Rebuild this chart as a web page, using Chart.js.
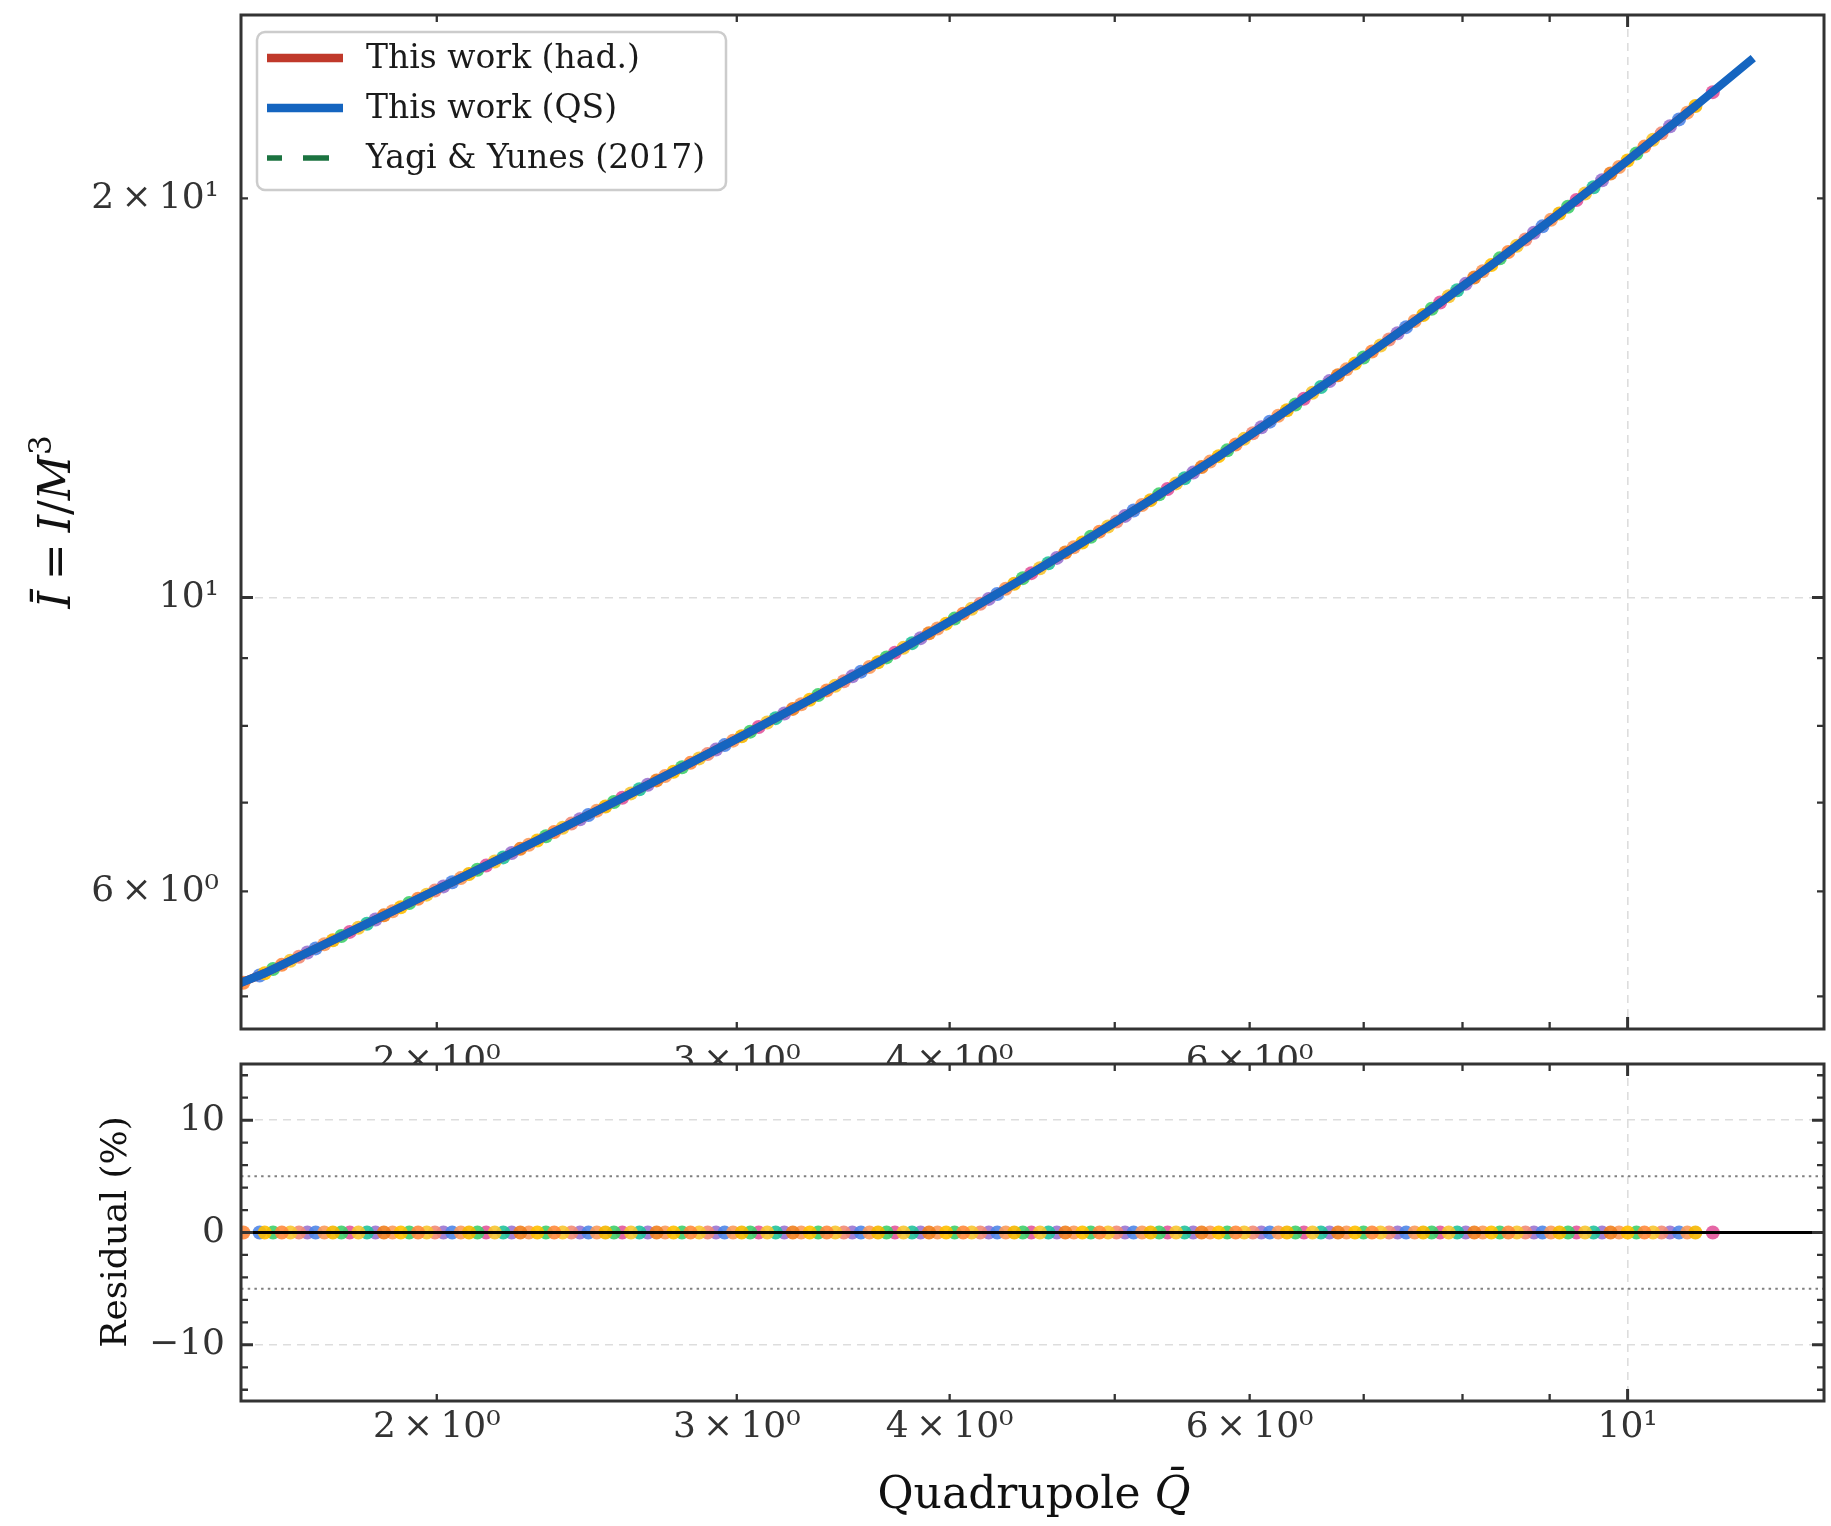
<!DOCTYPE html>
<html>
<head>
<meta charset="utf-8">
<script src="https://cdn.jsdelivr.net/npm/chart.js@4.4.1/dist/chart.umd.min.js"></script>
<style>
  html, body { margin: 0; padding: 0; background: #fff; }
  #wrap { position: relative; width: 1831px; height: 1526px; }
  #main { position: absolute; left: 0; top: 0; }
  #resid { position: absolute; left: 0; top: 1040px; }
</style>
</head>
<body>
<div id="wrap">
  <canvas id="main" width="1831" height="1064"></canvas>
  <canvas id="resid" width="1831" height="486"></canvas>
</div>
<script>
// ---------- data ----------
// axis limits
const qMin = 1.535, qMax = 13.04;
const iMin = 4.725, iMax = 27.5;
const resMin = -15, resMax = 15;

// fitted I-Q relations sampled along Q
const fitQ   = [1.50, 1.585, 1.738, 1.905, 2.089, 2.291, 2.512, 2.754, 3.020, 3.311, 3.631, 3.981, 4.365, 4.786, 5.248, 5.754, 6.310, 6.918, 7.586, 8.318, 9.120, 10.00, 10.96, 11.80];
const fitQS  = [5.06, 5.206, 5.513, 5.838, 6.185, 6.555, 6.955, 7.387, 7.857, 8.370, 8.934, 9.554, 10.24, 11.00, 11.84, 12.78, 13.84, 15.01, 16.33, 17.81, 19.48, 21.36, 23.48, 25.40];
const fitHad = [5.06, 5.206, 5.513, 5.838, 6.185, 6.555, 6.955, 7.387, 7.857, 8.370, 8.934, 9.554, 10.24, 11.00, 11.84, 12.78, 13.84, 15.01, 16.33, 17.81, 19.48, 21.36, 23.48, null];
const fitYY  = [5.06, 5.206, 5.513, 5.838, 6.185, 6.555, 6.955, 7.387, 7.857, 8.370, 8.934, 9.554, 10.24, 11.00, 11.84, 12.78, 13.84, 15.01, 16.33, 17.81, 19.48, 21.36, 23.48, 25.40];

// stellar models, one group per EOS
const eosColors = ['#ffbf00', '#ff8a3d', '#f28b74', '#4f86e8', '#f5b700', '#e2559b',
                   '#22c39b', '#f07f1f', '#3fcf6a', '#f7c531', '#9b74d0', '#fb9a5a'];
const eosQ = [
  [1.585, 1.905, 2.291, 2.754, 3.311, 3.981, 4.786, 5.754, 6.918, 8.318, 10.00],
  [1.540, 1.622, 1.950, 2.344, 2.818, 3.388, 4.074, 4.898, 5.888, 7.079, 8.511, 10.23],
  [1.660, 1.995, 2.399, 2.884, 3.467, 4.169, 5.012, 6.026, 7.244, 8.710, 10.47],
  [1.574, 1.698, 2.042, 2.455, 2.951, 3.548, 4.266, 5.129, 6.166, 7.413, 8.913, 10.72],
  [1.738, 2.089, 2.512, 3.020, 3.631, 4.365, 5.248, 6.310, 7.586, 9.120, 10.96],
  [1.778, 2.138, 2.570, 3.090, 3.715, 4.467, 5.370, 6.457, 7.762, 9.333, 11.22],
  [1.820, 2.188, 2.630, 3.162, 3.802, 4.571, 5.495, 6.607, 7.943, 9.550],
  [1.862, 2.239, 2.692, 3.236, 3.890, 4.677, 5.623, 6.761, 8.128, 9.772],
  [1.603, 1.758, 1.927, 2.113, 2.318, 2.541, 2.786, 3.055, 3.349, 3.673, 4.027, 4.416, 4.841, 5.309, 5.821, 6.383, 6.998, 7.674, 8.414, 9.226, 10.12],
  [1.641, 1.799, 1.973, 2.163, 2.371, 2.600, 2.851, 3.126, 3.427, 3.758, 4.121, 4.519, 4.955, 5.432, 5.956, 6.532, 7.161, 7.852, 8.610, 9.441, 10.35],
  [1.679, 1.841, 2.018, 2.213, 2.427, 2.660, 2.917, 3.199, 3.507, 3.846, 4.217, 4.624, 5.070, 5.559, 6.096, 6.684, 7.328, 8.035, 8.811, 9.661, 10.59],
  [1.718, 1.884, 2.066, 2.265, 2.483, 2.723, 2.985, 3.273, 3.589, 3.935, 4.315, 4.731, 5.188, 5.688, 6.237, 6.839, 7.499, 8.222, 9.016, 9.885, 10.84]
];
const eosI = [
  [5.206, 5.838, 6.555, 7.387, 8.370, 9.554, 11.00, 12.78, 15.01, 17.81, 21.36],
  [5.120, 5.282, 5.924, 6.653, 7.502, 8.508, 9.721, 11.21, 13.04, 15.33, 18.22, 21.88],
  [5.357, 6.009, 6.751, 7.617, 8.645, 9.888, 11.41, 13.30, 15.65, 18.62, 22.39],
  [5.185, 5.435, 6.097, 6.853, 7.737, 8.790, 10.06, 11.63, 13.57, 15.99, 19.05, 22.94],
  [5.513, 6.185, 6.955, 7.857, 8.934, 10.24, 11.84, 13.84, 16.33, 19.48, 23.48],
  [5.593, 6.276, 7.061, 7.983, 9.085, 10.43, 12.07, 14.12, 16.69, 19.94, 24.05],
  [5.673, 6.366, 7.166, 8.108, 9.236, 10.61, 12.30, 14.41, 17.05, 20.39],
  [5.756, 6.461, 7.277, 8.239, 9.395, 10.81, 12.54, 14.71, 17.43, 20.88],
  [5.244, 5.553, 5.881, 6.231, 6.604, 7.008, 7.445, 7.920, 8.439, 9.010, 9.638, 10.34, 11.11, 11.96, 12.91, 13.98, 15.17, 16.51, 18.02, 19.71, 21.62],
  [5.320, 5.633, 5.967, 6.321, 6.702, 7.114, 7.560, 8.046, 8.577, 9.161, 9.805, 10.52, 11.31, 12.19, 13.17, 14.27, 15.49, 16.87, 18.42, 20.17, 22.14],
  [5.396, 5.715, 6.053, 6.414, 6.802, 7.222, 7.677, 8.174, 8.718, 9.316, 9.974, 10.71, 11.52, 12.42, 13.44, 14.56, 15.82, 17.24, 18.84, 20.64, 22.67],
  [5.474, 5.797, 6.141, 6.508, 6.904, 7.332, 7.797, 8.305, 8.862, 9.475, 10.15, 10.91, 11.74, 12.66, 13.71, 14.86, 16.16, 17.62, 19.27, 21.12, 23.21]
];
// residual against the QS fit, in percent
const eosRes = [
  [0, 0, 0, 0, 0, 0, 0, 0, 0, 0, 0],
  [0, 0, 0, 0, 0, 0, 0, 0, 0, 0, 0, 0],
  [0, 0, 0, 0, 0, 0, 0, 0, 0, 0, 0],
  [0, 0, 0, 0, 0, 0, 0, 0, 0, 0, 0, 0],
  [0, 0, 0, 0, 0, 0, 0, 0, 0, 0, 0],
  [0, 0, 0, 0, 0, 0, 0, 0, 0, 0, 0],
  [0, 0, 0, 0, 0, 0, 0, 0, 0, 0],
  [0, 0, 0, 0, 0, 0, 0, 0, 0, 0],
  [0, 0, 0, 0, 0, 0, 0, 0, 0, 0, 0, 0, 0, 0, 0, 0, 0, 0, 0, 0, 0],
  [0, 0, 0, 0, 0, 0, 0, 0, 0, 0, 0, 0, 0, 0, 0, 0, 0, 0, 0, 0, 0],
  [0, 0, 0, 0, 0, 0, 0, 0, 0, 0, 0, 0, 0, 0, 0, 0, 0, 0, 0, 0, 0],
  [0, 0, 0, 0, 0, 0, 0, 0, 0, 0, 0, 0, 0, 0, 0, 0, 0, 0, 0, 0, 0]
];
const refLevels = [0, 5, -5];

// ticks
const xTickVals = [2, 3, 4, 6, 10];
const xTickTop  = ['2\u2009\u00d7\u200910\u2070', '3\u2009\u00d7\u200910\u2070', '4\u2009\u00d7\u200910\u2070', '6\u2009\u00d7\u200910\u2070', ''];
const xTickBot  = ['2\u2009\u00d7\u200910\u2070', '3\u2009\u00d7\u200910\u2070', '4\u2009\u00d7\u200910\u2070', '6\u2009\u00d7\u200910\u2070', '10\u00b9'];
const xMajor = [10];
const xMinor = [2, 3, 4, 5, 6, 7, 8, 9];
const iTickVals = [6, 10, 20];
const iTickText = ['6\u2009\u00d7\u200910\u2070', '10\u00b9', '2\u2009\u00d7\u200910\u00b9'];
const iMajor = [10];
const iMinor = [5, 6, 7, 8, 9, 20];
const resTickVals = [-10, 0, 10];
const resTickText = ['\u221210', '0', '10'];
const resMinor = [-14, -12, -8, -6, -4, -2, 2, 4, 6, 8, 12, 14];

// ---------- styles ----------
const FONT = 'DejaVu Serif';
const RED = '#c0392b', BLUE = '#1565c0', GREEN = '#1b7340';
const SPINE = '#333333', GRID = '#dddddd', TICKTXT = '#333333';
// stacking of the EOS groups: gold / orange ones end up on top
const eosRank = [1, 3, 7, 11, 2, 10, 8, 4, 9, 5, 12, 6];

const toPts = (xs, ys) => xs.map((x, i) => ({ x: x, y: ys[i] }));

// box + inward ticks on all four sides
const frameTicks = {
  id: 'frameTicks',
  afterDraw(chart, args, o) {
    const { ctx, chartArea: a } = chart;
    const x = chart.scales.x, y = chart.scales.y;
    ctx.save();
    ctx.strokeStyle = SPINE;
    ctx.lineCap = 'butt';
    const vert = (vals, len, w) => {
      ctx.lineWidth = w;
      ctx.beginPath();
      vals.forEach(v => {
        const px = x.getPixelForValue(v);
        ctx.moveTo(px, a.bottom); ctx.lineTo(px, a.bottom - len);
        ctx.moveTo(px, a.top); ctx.lineTo(px, a.top + len);
      });
      ctx.stroke();
    };
    const horiz = (vals, len, w) => {
      ctx.lineWidth = w;
      ctx.beginPath();
      vals.forEach(v => {
        const py = y.getPixelForValue(v);
        ctx.moveTo(a.left, py); ctx.lineTo(a.left + len, py);
        ctx.moveTo(a.right, py); ctx.lineTo(a.right - len, py);
      });
      ctx.stroke();
    };
    vert(o.xMinor, 7, 2.3);
    vert(o.xMajor, 12, 3);
    horiz(o.yMinor, 7, 2.3);
    horiz(o.yMajor, 12, 3);
    ctx.lineWidth = 3;
    ctx.strokeRect(a.left, a.top, a.right - a.left, a.bottom - a.top);
    ctx.restore();
  }
};

// framed legend in the upper left of the panel
const panelLegend = {
  id: 'panelLegend',
  afterDraw(chart, args, o) {
    if (!o.show) return;
    const ctx = chart.ctx;
    ctx.save();
    ctx.beginPath();
    ctx.roundRect(o.x, o.y, o.w, o.h, 8);
    ctx.fillStyle = 'rgba(255,255,255,0.85)';
    ctx.fill();
    ctx.strokeStyle = '#cccccc';
    ctx.lineWidth = 2.5;
    ctx.stroke();
    const rows = chart.data.datasets.filter(d => d.label);
    rows.forEach((d, i) => {
      const ry = o.rowY + i * o.rowGap;
      ctx.beginPath();
      ctx.strokeStyle = d.borderColor;
      ctx.lineWidth = d.borderWidth;
      ctx.setLineDash(d.borderDash || []);
      ctx.lineDashOffset = d.borderDash ? 11 : 0;
      ctx.moveTo(o.x + 10, ry);
      ctx.lineTo(o.x + 86, ry);
      ctx.stroke();
      ctx.setLineDash([]);
      ctx.fillStyle = '#1a1a1a';
      ctx.font = '33px "' + FONT + '"';
      ctx.textBaseline = 'middle';
      ctx.textAlign = 'left';
      ctx.fillText(d.label, o.x + 109, ry + 1);
    });
    ctx.restore();
  }
};

// axis titles with mixed upright / italic runs
function drawRich(ctx, parts, size, cx, cy, angle) {
  ctx.save();
  ctx.translate(cx, cy);
  ctx.rotate(angle);
  const fontFor = p => (p.it ? 'italic ' : '') + Math.round(p.sup ? size * 0.7 : size) + 'px "' + FONT + '"';
  let total = 0;
  parts.forEach(p => { ctx.font = fontFor(p); p.w = ctx.measureText(p.t).width; total += p.w; });
  let x = -total / 2;
  ctx.textBaseline = 'alphabetic';
  ctx.textAlign = 'left';
  ctx.fillStyle = '#111111';
  parts.forEach(p => {
    ctx.font = fontFor(p);
    ctx.fillText(p.t, x, size * 0.36 - (p.sup ? size * 0.42 : 0));
    x += p.w;
  });
  ctx.restore();
}

const axisTitles = {
  id: 'axisTitles',
  afterDraw(chart, args, o) {
    o.items.forEach(t => drawRich(chart.ctx, t.parts, t.size, t.x, t.y, t.angle));
  }
};

const gridAt = vals => ctx => (ctx.tick && vals.includes(ctx.tick.value)) ? GRID : 'rgba(0,0,0,0)';
const tickFont = { family: FONT, size: 36 };

const eosSets = yArrays => eosQ.map((qs, g) => ({
  data: toPts(qs, yArrays[g]), backgroundColor: eosColors[g] + 'e6', borderWidth: 0,
  pointRadius: 7, clip: 0, order: 10 + eosRank[g]
}));

// ---------- upper panel: I vs Q ----------
const topSets = [
  { label: 'This work (had.)', data: toPts(fitQ, fitHad), showLine: true, borderColor: RED,
    borderWidth: 8.3, pointRadius: 0, borderCapStyle: 'butt', clip: 0, order: 2 },
  { label: 'This work (QS)', data: toPts(fitQ, fitQS), showLine: true, borderColor: BLUE,
    borderWidth: 8.3, pointRadius: 0, borderCapStyle: 'square', clip: 0, order: 0 },
  { label: 'Yagi & Yunes (2017)', data: toPts(fitQ, fitYY), showLine: true, borderColor: GREEN,
    borderWidth: 5.6, borderDash: [26, 21], pointRadius: 0, clip: 0, order: 1 }
].concat(eosSets(eosI));

new Chart(document.getElementById('main'), {
  type: 'scatter',
  data: { datasets: topSets },
  options: {
    responsive: false, animation: false, devicePixelRatio: 1,
    layout: { padding: { left: 0, right: 4, top: 15, bottom: 0 } },
    plugins: {
      legend: { display: false }, tooltip: { enabled: false },
      frameTicks: { xMajor: xMajor, xMinor: xMinor, yMajor: iMajor, yMinor: iMinor },
      panelLegend: { show: true, x: 257, y: 32, w: 469, h: 158, rowY: 58, rowGap: 50 },
      axisTitles: { items: [
        { parts: [{ t: 'I\u0304', it: true }, { t: '\u2005=\u2005' }, { t: 'I', it: true }, { t: '/' }, { t: 'M', it: true }, { t: '3', sup: true }],
          size: 44, x: 54, y: 522, angle: -Math.PI / 2 }
      ] }
    },
    scales: {
      x: {
        type: 'logarithmic', min: qMin, max: qMax,
        afterBuildTicks: s => { s.ticks = xTickVals.map(v => ({ value: v })); },
        afterFit: s => { s.height = 35; s.paddingLeft = 0; s.paddingRight = 0; },
        ticks: { callback: (v, i) => xTickTop[i], font: tickFont, color: TICKTXT, padding: 11,
                 autoSkip: false, maxRotation: 0, minRotation: 0 },
        grid: { color: gridAt([10]), lineWidth: 1.6, drawTicks: false },
        border: { display: false, dash: [8, 6] }
      },
      y: {
        type: 'logarithmic', min: iMin, max: iMax,
        afterBuildTicks: s => { s.ticks = iTickVals.map(v => ({ value: v })); },
        afterFit: s => { s.width = 241; s.paddingTop = 0; s.paddingBottom = 0; },
        ticks: { callback: (v, i) => iTickText[i], font: tickFont, color: TICKTXT, padding: 22, autoSkip: false },
        grid: { color: gridAt([10]), lineWidth: 1.6, drawTicks: false },
        border: { display: false, dash: [8, 6] }
      }
    }
  },
  plugins: [frameTicks, panelLegend, axisTitles]
});

// ---------- lower panel: residuals ----------
const refSets = refLevels.map(v => ({
  data: [{ x: qMin, y: v }, { x: qMax, y: v }], showLine: true, pointRadius: 0, clip: 0,
  borderColor: v === 0 ? '#000000' : '#808080', borderWidth: v === 0 ? 3.2 : 2,
  borderDash: v === 0 ? [] : [2.5, 4.2], order: v === 0 ? 0 : 30
}));
const resSets = refSets.concat(eosSets(eosRes));

new Chart(document.getElementById('resid'), {
  type: 'scatter',
  data: { datasets: resSets },
  options: {
    responsive: false, animation: false, devicePixelRatio: 1,
    layout: { padding: { left: 0, right: 4, top: 24, bottom: 0 } },
    plugins: {
      legend: { display: false }, tooltip: { enabled: false },
      frameTicks: { xMajor: xMajor, xMinor: xMinor, yMajor: resTickVals, yMinor: resMinor },
      panelLegend: { show: false },
      axisTitles: { items: [
        { parts: [{ t: 'Quadrupole ' }, { t: 'Q\u0304', it: true }], size: 44, x: 1034, y: 452, angle: 0 },
        { parts: [{ t: 'Residual (%)' }], size: 36, x: 113, y: 192, angle: -Math.PI / 2 }
      ] }
    },
    scales: {
      x: {
        type: 'logarithmic', min: qMin, max: qMax,
        afterBuildTicks: s => { s.ticks = xTickVals.map(v => ({ value: v })); },
        afterFit: s => { s.height = 125; s.paddingLeft = 0; s.paddingRight = 0; },
        ticks: { callback: (v, i) => xTickBot[i], font: tickFont, color: TICKTXT, padding: 5,
                 autoSkip: false, maxRotation: 0, minRotation: 0 },
        grid: { color: gridAt([10]), lineWidth: 1.6, drawTicks: false },
        border: { display: false, dash: [8, 6] }
      },
      y: {
        type: 'linear', min: resMin, max: resMax,
        afterBuildTicks: s => { s.ticks = resTickVals.map(v => ({ value: v })); },
        afterFit: s => { s.width = 241; s.paddingTop = 0; s.paddingBottom = 0; },
        ticks: { callback: (v, i) => resTickText[i], font: tickFont, color: TICKTXT, padding: 16, autoSkip: false },
        grid: { color: gridAt([-10, 10]), lineWidth: 1.6, drawTicks: false },
        border: { display: false, dash: [8, 6] }
      }
    }
  },
  plugins: [frameTicks, panelLegend, axisTitles]
});
</script>
</body>
</html>
